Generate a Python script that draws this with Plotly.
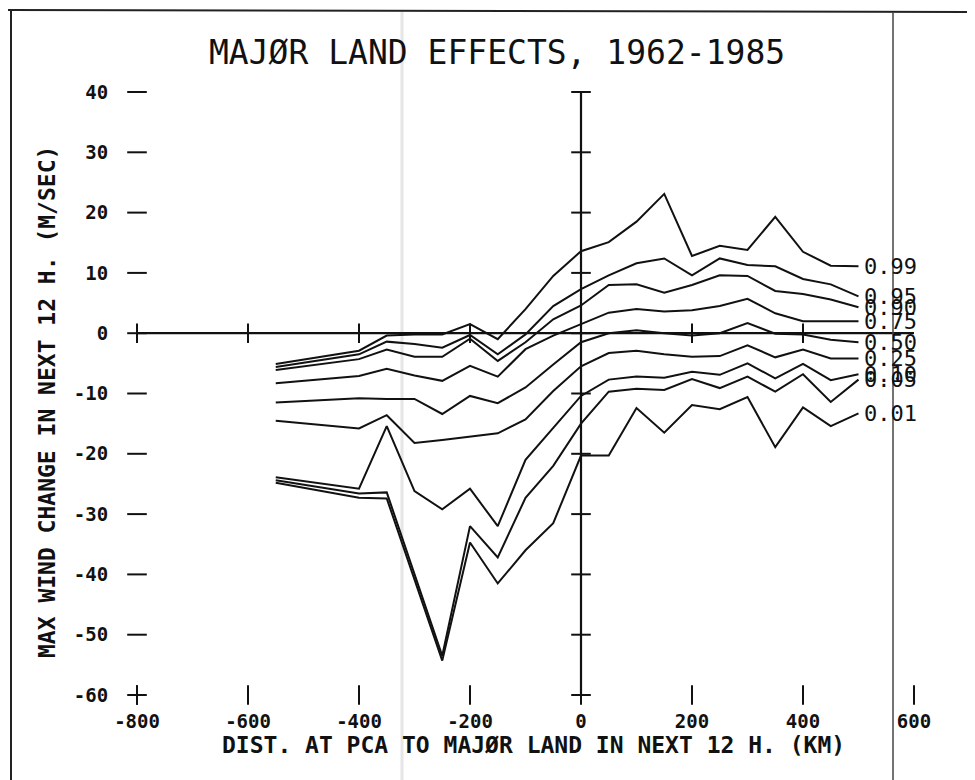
import plotly.graph_objects as go

# ---------------- data ----------------
x_km = [-550, -400, -350, -300, -250, -200, -150, -100, -50, 0,
        50, 100, 150, 200, 250, 300, 350, 400, 450, 500]

q99 = [-5.1, -2.9, -0.4, -0.2, -0.2, 1.5, -1.0, 4.0, 9.5, 13.6,
       15.1, 18.5, 23.1, 12.8, 14.5, 13.8, 19.3, 13.5, 11.2, 11.1]
q95 = [-5.6, -3.5, -1.4, -1.8, -2.4, -0.3, -3.5, -0.2, 4.5, 7.3,
       9.6, 11.6, 12.4, 9.6, 12.4, 11.3, 11.1, 9.0, 8.1, 6.1]
q90 = [-6.1, -4.3, -2.7, -3.9, -3.9, -0.9, -4.6, -1.5, 2.3, 4.6,
       8.0, 8.1, 6.7, 8.0, 9.6, 9.5, 7.0, 6.5, 5.6, 4.3]
q75 = [-8.3, -7.1, -5.9, -7.0, -7.9, -5.4, -7.2, -2.65, -0.4, 1.5,
       3.4, 4.0, 3.6, 3.8, 4.5, 5.7, 3.3, 2.0, 2.0, 2.0]
q50 = [-11.5, -10.8, -10.9, -10.9, -13.4, -10.4, -11.6, -9.0, -5.2, -1.5,
       0.0, 0.5, 0.0, -0.4, 0.0, 1.7, -0.1, -0.2, -1.1, -1.5]
q25 = [-14.5, -15.8, -13.6, -18.2, -17.7, -17.1, -16.6, -14.3, -9.6, -5.5,
       -3.3, -2.9, -3.5, -3.9, -3.8, -2.0, -4.0, -2.7, -4.2, -4.2]
q10 = [-23.9, -25.8, -15.4, -26.2, -29.2, -25.8, -32.0, -21.0, -15.7, -10.4,
       -7.7, -7.2, -7.4, -6.4, -6.9, -5.0, -7.5, -5.1, -7.8, -6.8]
q05 = [-24.4, -26.6, -26.4, -40.1, -53.5, -32.0, -37.2, -27.3, -22.0, -15.0,
       -9.7, -9.2, -9.4, -7.6, -9.1, -7.2, -9.7, -6.8, -11.4, -7.7]
q01 = [-24.8, -27.3, -27.4, -41.0, -54.3, -34.7, -41.5, -36.0, -31.5, -20.3,
       -20.3, -12.4, -16.5, -11.9, -12.6, -10.6, -18.9, -12.3, -15.4, -13.3]

series = [q99, q95, q90, q75, q50, q25, q10, q05, q01]
labels = ["0.99", "0.95", "0.90", "0.75", "0.50", "0.25", "0.10", "0.05", "0.01"]

x_ticks = [-800, -600, -400, -200, 0, 200, 400, 600]
y_ticks = [40, 30, 20, 10, 0, -10, -20, -30, -40, -50, -60]
x_inner_ticks = [-600, -400, -200, 200, 400]

title_text = "MAJØR LAND EFFECTS, 1962-1985"
x_title = "DIST. AT PCA TO MAJØR LAND IN NEXT 12 H. (KM)"
y_title = "MAX WIND CHANGE IN NEXT 12 H. (M/SEC)"

FONT = "DejaVu Sans Mono"
INK = "#111111"

# the page body adds an 8 px offset; work in screen pixels and subtract it
OFF = 8
W, H = 975 - OFF, 780 - OFF
L, R, T, B = 137, 914, 92, 695          # plot area in screen pixels


def px(xp):
    return (xp - L) / (R - L)


def py(yp):
    return (B - yp) / (B - T)


fig = go.Figure()

# axes drawn as lines through the origin
fig.add_trace(go.Scatter(x=[-800, 600], y=[0, 0], mode="lines",
                         line=dict(color=INK, width=2.2), hoverinfo="skip",
                         showlegend=False, cliponaxis=False))
fig.add_trace(go.Scatter(x=[0, 0], y=[-60, 40], mode="lines",
                         line=dict(color=INK, width=2.2), hoverinfo="skip",
                         showlegend=False, cliponaxis=False))

tick_marker = dict(size=14, line=dict(color=INK, width=2))

# ticks on the central axes
fig.add_trace(go.Scatter(x=x_inner_ticks, y=[0] * len(x_inner_ticks), mode="markers",
                         marker=dict(symbol="line-ns", **tick_marker),
                         hoverinfo="skip", showlegend=False, cliponaxis=False))
fig.add_trace(go.Scatter(x=[0] * len(y_ticks), y=y_ticks, mode="markers",
                         marker=dict(symbol="line-ew", **tick_marker),
                         hoverinfo="skip", showlegend=False, cliponaxis=False))

# frame ticks (left and bottom)
fig.add_trace(go.Scatter(x=[-800] * len(y_ticks), y=y_ticks, mode="markers",
                         marker=dict(symbol="line-ew", **tick_marker),
                         hoverinfo="skip", showlegend=False, cliponaxis=False))
fig.add_trace(go.Scatter(x=[-800, -800], y=[0, -60], mode="markers",
                         marker=dict(symbol="line-ns", **tick_marker),
                         hoverinfo="skip", showlegend=False, cliponaxis=False))
fig.add_trace(go.Scatter(x=x_ticks, y=[-60] * len(x_ticks), mode="markers",
                         marker=dict(symbol="line-ns", **tick_marker),
                         hoverinfo="skip", showlegend=False, cliponaxis=False))

# quantile curves with end labels
for ys, lab in zip(series, labels):
    fig.add_trace(go.Scatter(x=x_km, y=ys, mode="lines",
                             line=dict(color=INK, width=2),
                             hoverinfo="skip", showlegend=False, cliponaxis=False))
    fig.add_annotation(x=x_km[-1], y=ys[-1], text=lab, showarrow=False,
                       xanchor="left", yanchor="middle", xshift=3,
                       font=dict(family=FONT, size=22, color=INK))

# page decorations (scan frame)
fig.add_shape(type="line", xref="paper", yref="paper",
              x0=px(8), y0=py(10), x1=px(975), y1=py(12),
              line=dict(color="#222", width=2))
fig.add_shape(type="line", xref="paper", yref="paper",
              x0=px(11), y0=py(10), x1=px(11), y1=py(780),
              line=dict(color="#222", width=2))
fig.add_shape(type="line", xref="paper", yref="paper",
              x0=px(893), y0=py(12), x1=px(893), y1=py(780),
              line=dict(color="#444", width=1.5))
fig.add_shape(type="line", xref="paper", yref="paper",
              x0=px(402), y0=py(12), x1=px(402), y1=py(780),
              line=dict(color="#e6e6e6", width=3), layer="below")

# title and axis titles
fig.add_annotation(xref="paper", yref="paper", x=px(497), y=py(53),
                   text=title_text, showarrow=False,
                   xanchor="center", yanchor="middle",
                   font=dict(family=FONT, size=33, color=INK))
fig.add_annotation(xref="paper", yref="paper", x=px(533), y=py(745),
                   text=x_title, showarrow=False,
                   xanchor="center", yanchor="middle",
                   font=dict(family=FONT, size=23, color=INK, weight="bold"))
fig.add_annotation(xref="paper", yref="paper", x=px(47), y=py(402),
                   text=y_title, showarrow=False, textangle=-90,
                   xanchor="center", yanchor="middle",
                   font=dict(family=FONT, size=23, color=INK, weight="bold"))

fig.update_layout(
    width=W, height=H,
    margin=dict(l=L - OFF, r=975 - R, t=T - OFF, b=780 - B),
    paper_bgcolor="white", plot_bgcolor="white",
    showlegend=False,
    xaxis=dict(range=[-800, 600], tickvals=x_ticks, ticktext=[str(v) for v in x_ticks],
               showgrid=False, zeroline=False, showline=False,
               ticks="outside", ticklen=9, tickcolor="rgba(0,0,0,0)",
               tickfont=dict(family=FONT, size=19, color=INK, weight="bold")),
    yaxis=dict(range=[-60, 40], tickvals=y_ticks, ticktext=[str(v) for v in y_ticks],
               showgrid=False, zeroline=False, showline=False,
               ticks="outside", ticklen=24, tickcolor="rgba(0,0,0,0)",
               tickfont=dict(family=FONT, size=19, color=INK, weight="bold")),
)

fig.write_html("out.html")
